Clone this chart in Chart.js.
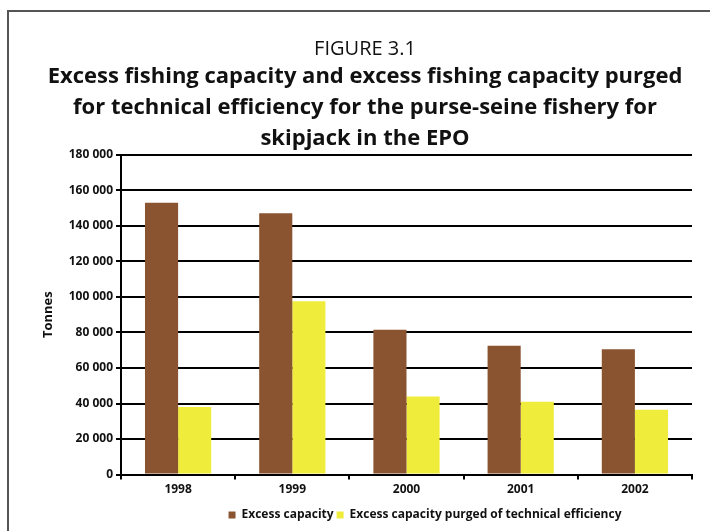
<!DOCTYPE html>
<html>
<head>
<meta charset="utf-8">
<script src="https://cdn.jsdelivr.net/npm/chart.js@4/dist/chart.umd.min.js"></script>
<style>
  html, body { margin: 0; padding: 0; background: #fff; }
  #wrap { width: 710px; height: 531px; position: relative; }
</style>
</head>
<body>
<div id="wrap"><canvas id="fishChart" width="710" height="531"></canvas></div>
<script>
// data
const years = ['1998', '1999', '2000', '2001', '2002'];
const excessCapacity = [153000, 147000, 81500, 72500, 70500];
const excessPurged = [38000, 97500, 44000, 41000, 36500];
const yTicks = [0, 20000, 40000, 60000, 80000, 100000, 120000, 140000, 160000, 180000];

const FONT = '"Open Sans", "DejaVu Sans", sans-serif';

// left and top frame lines of the figure box
const framePlugin = {
  id: 'frame',
  beforeDraw(chart) {
    const c = chart.ctx;
    c.save();
    c.fillStyle = '#fff';
    c.fillRect(0, 0, chart.width, chart.height);
    c.strokeStyle = '#555';
    c.lineWidth = 2;
    c.beginPath();
    c.moveTo(8, chart.height);
    c.lineTo(8, 11);
    c.lineTo(chart.width, 11);
    c.stroke();
    c.restore();
  }
};

// the legend in the original sits a bit right of centre
const legendShift = {
  id: 'legendShift',
  afterLayout(chart) {
    if (chart.legend) {
      chart.legend.left += 60;
      chart.legend.right += 60;
    }
  }
};

const fmt = v => String(v).replace(/\B(?=(\d{3})+(?!\d))/g, ' ');

document.addEventListener('DOMContentLoaded', function () {
  const ctx = document.getElementById('fishChart').getContext('2d');
  new Chart(ctx, {
    type: 'bar',
    data: {
      labels: years,
      datasets: [{
        label: 'Excess capacity',
        data: excessCapacity,
        backgroundColor: '#8B5430',
        categoryPercentage: 0.58,
        barPercentage: 1.0
      }, {
        label: 'Excess capacity purged of technical efficiency',
        data: excessPurged,
        backgroundColor: '#F0EC3C',
        categoryPercentage: 0.58,
        barPercentage: 1.0
      }]
    },
    options: {
      responsive: false,
      animation: false,
      layout: { padding: { left: 38, right: 18, top: 37, bottom: 0 } },
      scales: {
        x: {
          afterFit: axis => { axis.height += 6; },
          grid: { offset: true, drawOnChartArea: false, tickLength: 5, color: '#000', lineWidth: 2 },
          border: { color: '#000', width: 2 },
          ticks: { color: '#111', font: { family: FONT, size: 12, weight: 'bold' }, padding: 3 }
        },
        y: {
          min: 0,
          max: 180000,
          afterBuildTicks: axis => { axis.ticks = yTicks.map(v => ({ value: v })); },
          afterFit: axis => { axis.width = 83; },
          grid: { color: '#000', lineWidth: 2, tickLength: 5 },
          border: { color: '#000', width: 2 },
          ticks: {
            color: '#111',
            font: { family: FONT, size: 12, weight: 'bold' },
            padding: 3,
            callback: v => fmt(v)
          },
          title: {
            display: true,
            text: 'Tonnes',
            color: '#111',
            font: { family: FONT, size: 13, weight: 'bold' },
            padding: 2
          }
        }
      },
      plugins: {
        title: {
          display: true,
          text: 'FIGURE 3.1',
          color: '#111',
          font: { family: FONT, size: 20, weight: 'normal' },
          padding: { top: 0, bottom: 0 }
        },
        subtitle: {
          display: true,
          text: [
            'Excess fishing capacity and excess fishing capacity purged',
            'for technical efficiency for the purse-seine fishery for',
            'skipjack in the EPO'
          ],
          color: '#111',
          font: { family: FONT, size: 22, weight: 'bold', lineHeight: 1.42 },
          padding: { top: 0, bottom: 0 }
        },
        legend: {
          position: 'bottom',
          labels: {
            boxWidth: 7,
            boxHeight: 7,
            padding: 3,
            color: '#111',
            font: { family: FONT, size: 12, weight: 'bold' }
          }
        },
        tooltip: { enabled: false }
      }
    },
    plugins: [framePlugin, legendShift]
  });
});
</script>
</body>
</html>
